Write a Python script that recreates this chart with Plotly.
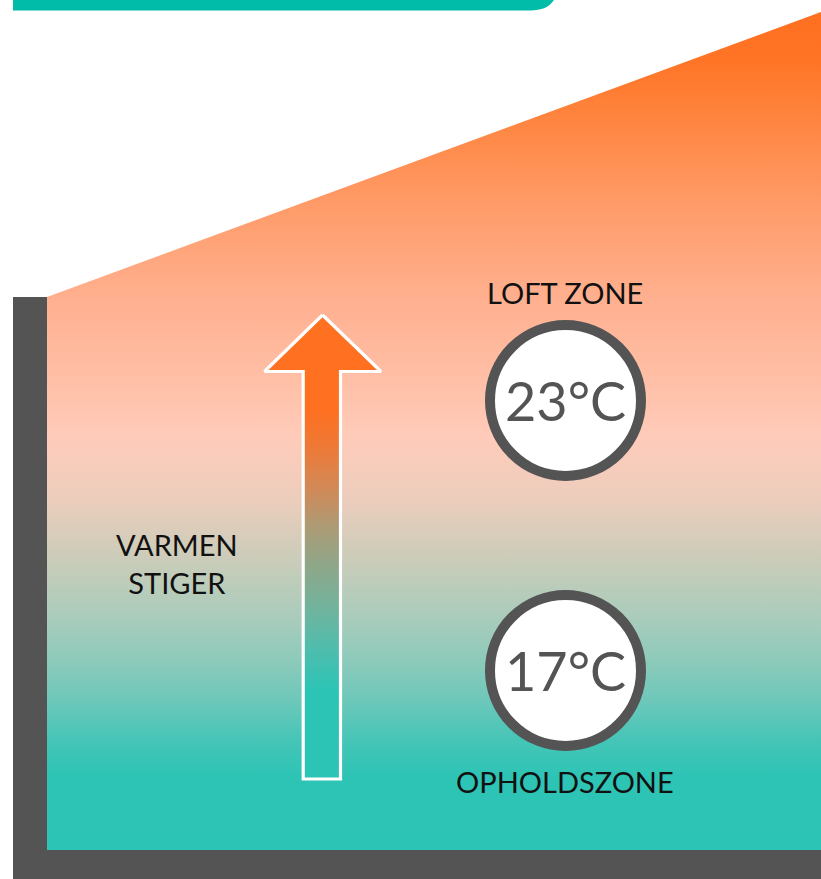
import plotly.graph_objects as go

W, H = 821, 879

# ---- data / content ----
room_x = [47, 821, 821, 47]
room_y = [297, 12, 850, 850]
room_stops = [0, 0.089, 0.131, 0.179, 0.227, 0.274, 0.346, 0.418, 0.493, 0.561, 0.656, 0.776, 0.871, 0.943, 1]
room_colors = ["#2CC4B5", "#2EC4B5", "#45C5B7", "#6EC8BA", "#8DCABA", "#A8CCBC", "#CACCB9",
               "#ECCDBC", "#FFCBBA", "#FFBFA6", "#FFB090", "#FF9A66", "#FF8540", "#FF7425", "#FF7020"]

arrow_x = [322.5, 381, 340.5, 340.5, 303.2, 303.2, 264.5, 322.5]
arrow_y = [315, 371.5, 371.5, 779, 779, 371.5, 371.5, 315]
arrow_stops = [0, 0.192, 0.278, 0.364, 0.472, 0.547, 0.623, 0.709, 0.795, 1]
arrow_colors = ["#2CC4B5", "#2CC4B5", "#4EBDAD", "#70B49E", "#92A586", "#AE9A74",
                "#D08A58", "#EC7A38", "#FF7020", "#FF7020"]

zone_labels = ["LOFT ZONE", "OPHOLDSZONE"]
zone_label_y = [292, 781]
temps = ["23°C", "17°C"]
temp_cy = [400.5, 670.5]
side_label = "VARMEN<br>STIGER"

GRAY = "#545454"
FONT = "Lato, 'Open Sans', sans-serif"

fig = go.Figure()

fig.add_trace(go.Scatter(
    x=room_x + [room_x[0]], y=room_y + [room_y[0]], mode="lines", fill="toself",
    line=dict(width=0), hoverinfo="skip",
    fillgradient=dict(type="vertical", start=850, stop=12,
                      colorscale=[[s, c] for s, c in zip(room_stops, room_colors)]),
))

fig.add_trace(go.Scatter(
    x=arrow_x, y=arrow_y, mode="lines", fill="toself",
    line=dict(width=3.2, color="white"), hoverinfo="skip",
    fillgradient=dict(type="vertical", start=779, stop=315,
                      colorscale=[[s, c] for s, c in zip(arrow_stops, arrow_colors)]),
))

shapes = []
# teal top bar
shapes.append(dict(type="path", xref="x", yref="y",
                   path="M 13,-40 L 558,-40 L 558,-17 Q 558,10.5 530,10.5 L 13,10.5 Z",
                   fillcolor="#00BCA8", line=dict(width=0), layer="above"))
# walls
shapes.append(dict(type="rect", xref="x", yref="y", x0=13, x1=47, y0=297, y1=879,
                   fillcolor=GRAY, line=dict(width=0), layer="above"))
shapes.append(dict(type="rect", xref="x", yref="y", x0=13, x1=821, y0=850, y1=879,
                   fillcolor=GRAY, line=dict(width=0), layer="above"))
# circles
for cy in temp_cy:
    shapes.append(dict(type="circle", xref="x", yref="y", x0=565.5 - 75.5, x1=565.5 + 75.5,
                       y0=cy - 75.5, y1=cy + 75.5, fillcolor="white",
                       line=dict(color=GRAY, width=10), layer="above"))

annotations = []
for lab, ly in zip(zone_labels, zone_label_y):
    annotations.append(dict(x=565, y=ly, xref="x", yref="y", text=lab, showarrow=False,
                            font=dict(family=FONT, size=29, color="#111111"),
                            xanchor="center", yanchor="middle"))
for t, cy in zip(temps, temp_cy):
    annotations.append(dict(x=565, y=cy, xref="x", yref="y", text=t, showarrow=False,
                            font=dict(family=FONT, size=54, color=GRAY),
                            xanchor="center", yanchor="middle"))
annotations.append(dict(x=177, y=563, xref="x", yref="y", text=side_label, showarrow=False,
                        font=dict(family=FONT, size=29, color="#111111"),
                        xanchor="center", yanchor="middle"))

fig.update_layout(
    width=W, height=H, margin=dict(l=0, r=0, t=0, b=0),
    paper_bgcolor="white", plot_bgcolor="white", showlegend=False,
    xaxis=dict(range=[0, W], visible=False, fixedrange=True),
    yaxis=dict(range=[H, 0], visible=False, fixedrange=True),
    shapes=shapes, annotations=annotations,
)

fig.write_html("out.html", config={"displayModeBar": False},
               post_script="document.body.style.margin='0px';")
